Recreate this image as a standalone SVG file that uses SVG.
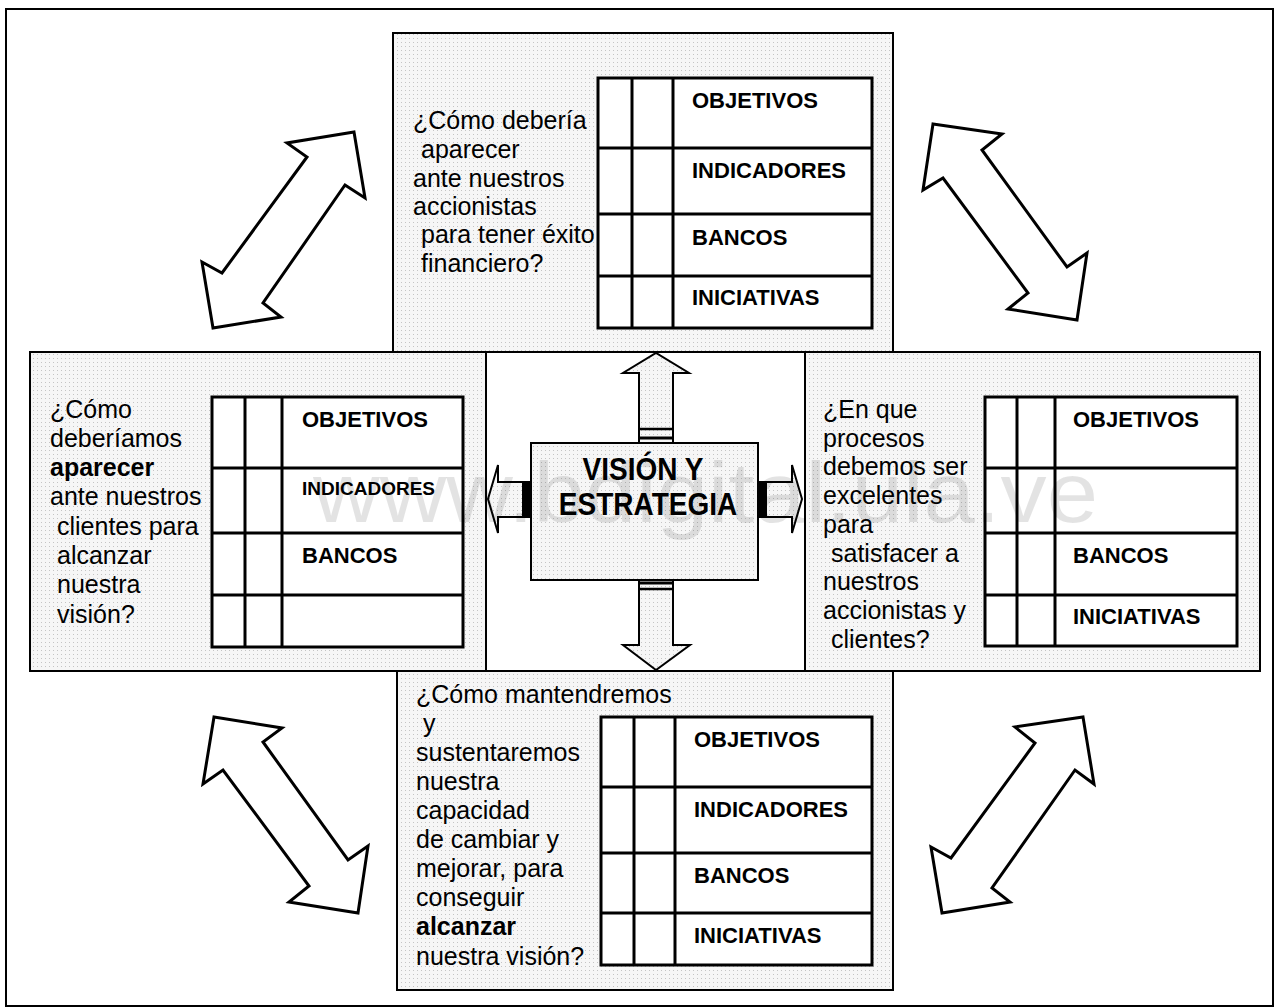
<svg xmlns="http://www.w3.org/2000/svg" width="1277" height="1008" viewBox="0 0 1277 1008">
<defs>
<pattern id="stip" width="4" height="4" patternUnits="userSpaceOnUse">
<rect width="4" height="4" fill="#f6f6f6"/>
<rect x="1" y="2" width="1" height="1" fill="#c4c4c4"/>
</pattern>
</defs>
<style>
.box{fill:url(#stip);stroke:#000;stroke-width:2}
.tbl{fill:#fff;stroke:#000;stroke-width:3}
.ln{stroke:#000;stroke-width:3}
.q{font-family:"Liberation Sans",Arial,sans-serif;font-size:25px;fill:#000}
.qb{font-weight:bold}
.lab{font-family:"Liberation Sans",Arial,sans-serif;font-size:22px;font-weight:bold;fill:#000}
.arr{fill:#fff;stroke:#000;stroke-width:3;stroke-linejoin:miter}
.carr{fill:url(#stip);stroke:#000;stroke-width:2}
.ctr{font-family:"Liberation Sans",Arial,sans-serif;font-size:28px;font-weight:bold;fill:#000;text-anchor:middle}
</style>
<rect x="6" y="9" width="1267" height="997" fill="#fff" stroke="#000" stroke-width="2"/>

<g id="node-financiera">
<rect class="box" x="393" y="33" width="500" height="319"/>
<rect class="tbl" x="598" y="78" width="274" height="250"/>
<line class="ln" x1="632" y1="78" x2="632" y2="328"/>
<line class="ln" x1="673" y1="78" x2="673" y2="328"/>
<line class="ln" x1="598" y1="148" x2="872" y2="148"/>
<line class="ln" x1="598" y1="214" x2="872" y2="214"/>
<line class="ln" x1="598" y1="276" x2="872" y2="276"/>
<text class="lab" x="692" y="108">OBJETIVOS</text>
<text class="lab" x="692" y="178">INDICADORES</text>
<text class="lab" x="692" y="245">BANCOS</text>
<text class="lab" x="692" y="305">INICIATIVAS</text>
<text class="q" x="413" y="129">¿Cómo debería</text>
<text class="q" x="421" y="158">aparecer</text>
<text class="q" x="413" y="187">ante nuestros</text>
<text class="q" x="413" y="215">accionistas</text>
<text class="q" x="421" y="243">para tener éxito</text>
<text class="q" x="421" y="272">financiero?</text>
</g>

<g id="node-clientes">
<rect class="box" x="30" y="352" width="456" height="319"/>
<rect class="tbl" x="212" y="397" width="251" height="250"/>
<line class="ln" x1="245" y1="397" x2="245" y2="647"/>
<line class="ln" x1="282" y1="397" x2="282" y2="647"/>
<line class="ln" x1="212" y1="468" x2="463" y2="468"/>
<line class="ln" x1="212" y1="533" x2="463" y2="533"/>
<line class="ln" x1="212" y1="595" x2="463" y2="595"/>
<text class="lab" x="302" y="427">OBJETIVOS</text>
<text class="lab" x="302" y="495" style="font-size:19px">INDICADORES</text>
<text class="lab" x="302" y="563">BANCOS</text>
<text class="q" x="50" y="418">¿Cómo</text>
<text class="q" x="50" y="447">deberíamos</text>
<text class="q qb" x="50" y="476">aparecer</text>
<text class="q" x="50" y="505">ante nuestros</text>
<text class="q" x="57" y="535">clientes para</text>
<text class="q" x="57" y="564">alcanzar</text>
<text class="q" x="57" y="593">nuestra</text>
<text class="q" x="57" y="623">visión?</text>
</g>

<g id="node-procesos">
<rect class="box" x="805" y="352" width="455" height="319"/>
<rect class="tbl" x="985" y="397" width="252" height="249"/>
<line class="ln" x1="1017" y1="397" x2="1017" y2="646"/>
<line class="ln" x1="1055" y1="397" x2="1055" y2="646"/>
<line class="ln" x1="985" y1="468" x2="1237" y2="468"/>
<line class="ln" x1="985" y1="533" x2="1237" y2="533"/>
<line class="ln" x1="985" y1="595" x2="1237" y2="595"/>
<text class="lab" x="1073" y="427">OBJETIVOS</text>
<text class="lab" x="1073" y="563">BANCOS</text>
<text class="lab" x="1073" y="624">INICIATIVAS</text>
<text class="q" x="823" y="418">¿En que</text>
<text class="q" x="823" y="447">procesos</text>
<text class="q" x="823" y="475">debemos ser</text>
<text class="q" x="823" y="504">excelentes</text>
<text class="q" x="823" y="533">para</text>
<text class="q" x="831" y="562">satisfacer a</text>
<text class="q" x="823" y="590">nuestros</text>
<text class="q" x="823" y="619">accionistas y</text>
<text class="q" x="831" y="648">clientes?</text>
</g>

<g id="node-aprendizaje">
<rect class="box" x="397" y="671" width="496" height="319"/>
<rect class="tbl" x="601" y="717" width="271" height="248"/>
<line class="ln" x1="634" y1="717" x2="634" y2="965"/>
<line class="ln" x1="675" y1="717" x2="675" y2="965"/>
<line class="ln" x1="601" y1="787" x2="872" y2="787"/>
<line class="ln" x1="601" y1="853" x2="872" y2="853"/>
<line class="ln" x1="601" y1="913" x2="872" y2="913"/>
<text class="lab" x="694" y="747">OBJETIVOS</text>
<text class="lab" x="694" y="817">INDICADORES</text>
<text class="lab" x="694" y="883">BANCOS</text>
<text class="lab" x="694" y="943">INICIATIVAS</text>
<text class="q" x="416" y="703">¿Cómo mantendremos</text>
<text class="q" x="423" y="732">y</text>
<text class="q" x="416" y="761">sustentaremos</text>
<text class="q" x="416" y="790">nuestra</text>
<text class="q" x="416" y="819">capacidad</text>
<text class="q" x="416" y="848">de cambiar y</text>
<text class="q" x="416" y="877">mejorar, para</text>
<text class="q" x="416" y="906">conseguir</text>
<text class="q qb" x="416" y="935">alcanzar</text>
<text class="q" x="416" y="965">nuestra visión?</text>
</g>

<g id="node-vision">
<rect x="486" y="352" width="319" height="319" fill="#fff" stroke="#000" stroke-width="2"/>
<rect class="box" x="531" y="443" width="227" height="137"/>
<text class="ctr" transform="translate(643,480) scale(1,1.12)" x="0" y="0">VISIÓN Y</text>
<text class="ctr" transform="translate(648,515) scale(1,1.12)" x="0" y="0">ESTRATEGIA</text>
</g>

<g id="connectors">
<polygon class="carr" points="639,443 639,373 623,373 656,353 689,373 673,373 673,443"/>
<line x1="639" y1="429" x2="673" y2="429" stroke="#000" stroke-width="2.5"/>
<line x1="639" y1="438" x2="673" y2="438" stroke="#000" stroke-width="3"/>
<polygon class="carr" points="639,580 639,645 623,645 656,670 690,645 673,645 673,580"/>
<line x1="639" y1="583" x2="673" y2="583" stroke="#000" stroke-width="3"/>
<line x1="639" y1="589" x2="673" y2="589" stroke="#000" stroke-width="2.5"/>
<polygon class="carr" points="531,482 498,482 498,465 488,499 498,533 498,517 531,517"/>
<rect x="522" y="482" width="9" height="35" fill="#000"/>
<polygon class="carr" points="758,482 792,482 792,465 802,499 792,533 792,517 758,517"/>
<rect x="758" y="482" width="9" height="35" fill="#000"/>

<polygon class="arr" points="354,132 365,198 345,185 263,303 281,317 213,328 202,262 222,273 307,157 287,143"/>
<polygon class="arr" points="933,124 1002,134 982,150 1067,267 1087,253 1077,320 1008,309 1028,293 943,178 923,190"/>
<polygon class="arr" points="214,717 282,728 263,742 348,860 368,846 358,913 289,902 309,886 223,770 203,784"/>
<polygon class="arr" points="1083,717 1094,784 1075,770 992,888 1010,902 942,913 931,847 951,858 1035,743 1015,727"/>
</g>

<text x="313" y="522" font-family="'Liberation Sans',Arial,sans-serif" font-size="86" textLength="785" lengthAdjust="spacingAndGlyphs" fill="#000" fill-opacity="0.11">www.bdigital.ula.ve</text>
</svg>
